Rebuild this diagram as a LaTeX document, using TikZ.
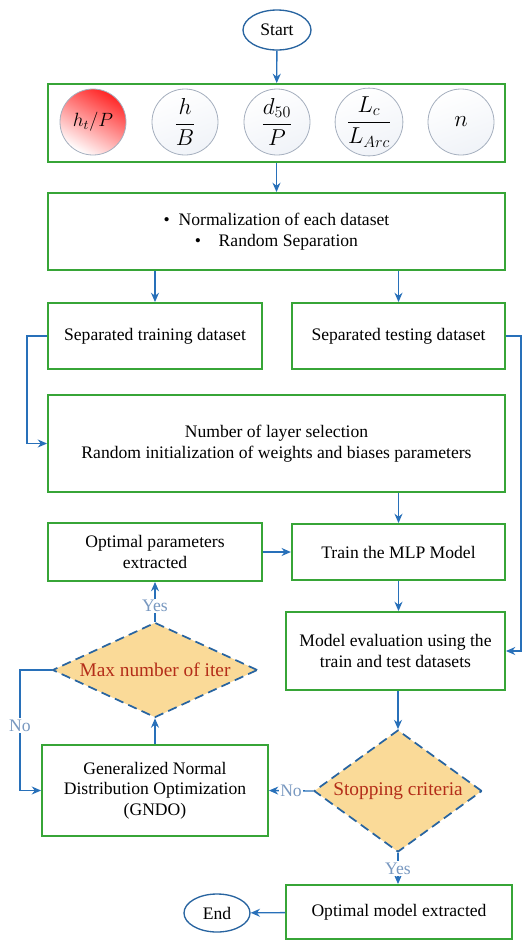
\documentclass[tikz,border=0pt]{standalone}
\usepackage{amsmath}
\usepackage{amssymb}
\usepackage{fontspec}
\setmainfont{Liberation Serif}
\usetikzlibrary{shapes.geometric,arrows.meta}

\definecolor{boxgreen}{RGB}{55,165,55}
\definecolor{flowblue}{RGB}{40,112,185}
\definecolor{dashblue}{RGB}{40,100,160}
\definecolor{decfill}{RGB}{250,218,152}
\definecolor{dectext}{RGB}{180,45,25}
\definecolor{labblue}{RGB}{120,152,192}
\definecolor{ringgray}{RGB}{165,175,190}
\definecolor{ringfill}{RGB}{240,243,248}

\tikzset{
  procbox/.style={draw=boxgreen, line width=1.4pt, rectangle, align=center, inner sep=2pt},
  decbox/.style={draw=dashblue, fill=decfill, line width=1.3pt, dashed, dash pattern=on 7pt off 4pt,
    diamond, inner sep=0pt, text=dectext, font=\fontsize{14.5}{17}\selectfont},
  termbox/.style={draw=dashblue, line width=1pt, ellipse, inner sep=0pt},
  parcirc/.style={circle, draw=ringgray, line width=0.6pt, minimum size=49.5pt, inner sep=0pt,
    top color=white, bottom color=ringfill, shading angle=20, font=\fontsize{16.5}{19}\selectfont},
  flow/.style={draw=flowblue, line width=1pt, ->, >={Stealth[length=7pt,width=6pt]}},
  answer/.style={text=labblue, fill=white, inner sep=1pt}
}

\begin{document}
\begin{tikzpicture}[x=0.75pt, y=-0.75pt, font=\fontsize{13.2}{15.5}\selectfont]
            % Frame
            \useasboundingbox (0,0) rectangle (523,940);
            
            % Start and the inputs
            \node[termbox, minimum width=51pt, minimum height=30pt] (start) at (277,30) {Start};
            \node[procbox, minimum width=342.75pt, minimum height=58.5pt] (inputs) at (276.5,123) {};
            \node[parcirc, top color=red!85!white, bottom color=white, shading angle=-30,
              font=\fontsize{14}{16}\selectfont] (in1) at (93,122) {$h_t/P$};
            \node[parcirc] (in2) at (185,122) {$\dfrac{h}{B}$};
            \node[parcirc] (in3) at (277,122) {$\dfrac{d_{50}}{P}$};
            \node[parcirc] (in4) at (369,122) {$\dfrac{L_c}{L_{Arc}}$};
            \node[parcirc] (in5) at (461,122) {$n$};
            
            % Data preparation
            \node[procbox, minimum width=342.75pt, minimum height=57.75pt] (norm) at (276.5,231.5)
              {\textbullet\ \ Normalization of each dataset\\ \textbullet\quad Random Separation};
            \node[procbox, minimum width=160.5pt, minimum height=49.5pt] (train) at (155,336) {Separated training dataset};
            \node[procbox, minimum width=160pt, minimum height=49.5pt] (test) at (398.5,336) {Separated testing dataset};
            \node[procbox, minimum width=342.75pt, minimum height=72.75pt] (layer) at (276.5,443.5)
              {Number of layer selection\\ Random initialization of weights and biases parameters};
            
            % Training loop
            \node[procbox, minimum width=160.5pt, minimum height=43.5pt] (optpar) at (155,552) {Optimal parameters\\ extracted};
            \node[procbox, minimum width=160pt, minimum height=42pt] (mlp) at (398.5,552) {Train the MLP Model};
            \node[procbox, minimum width=164.25pt, minimum height=58.5pt] (eval) at (395.5,651)
              {Model evaluation using the\\ train and test datasets};
            \node[decbox, minimum width=126pt, minimum height=91.5pt, aspect=1.38] (stop) at (398,791) {Stopping criteria};
            \node[procbox, minimum width=169.5pt, minimum height=68.25pt] (gndo) at (155,790.5)
              {Generalized Normal\\ Distribution Optimization\\ (GNDO)};
            \node[decbox, minimum width=153.75pt, minimum height=71.25pt, aspect=2.16] (maxit) at (155,670) {Max number of iter};
            
            % Output
            \node[procbox, minimum width=169.5pt, minimum height=40.5pt] (optmod) at (399,912) {Optimal model extracted};
            \node[termbox, minimum width=49.5pt, minimum height=28.5pt] (end) at (217,913) {End};
            
            % Corners of the side lines
            \coordinate (trainturn) at (27,336);
            \coordinate (testturn) at (521,336);
            \coordinate (noturn) at (20,670);
            
            % Connectors
            \draw[flow] (start) -- (inputs);
            \draw[flow] (inputs) -- (norm);
            \draw[flow] (norm.south -| train.north) -- (train.north);
            \draw[flow] (norm.south -| test.north) -- (test.north);
            \draw[flow] (train.west) -- (trainturn) |- (layer.west);
            \draw[flow] (test.east) -- (testturn) |- (eval.east);
            \draw[flow] (layer.south -| mlp.north) -- (mlp.north);
            \draw[flow] (optpar) -- (mlp);
            \draw[flow] (mlp.south) -- (eval.north -| mlp.south);
            \draw[flow] (eval.south -| stop.north) -- (stop.north);
            \draw[flow] (stop.west) -- node[answer] {No} (gndo.east);
            \draw[flow] (gndo.north) -- (maxit.south);
            \draw[flow] (maxit.north) -- node[answer, pos=0.4] {Yes} (optpar.south);
            \draw[flow] (maxit.west) -- (noturn) -- node[answer, pos=0.46] {No} (noturn |- gndo.west) -- (gndo.west);
            \draw[flow] (stop.south) -- node[answer] {Yes} (optmod.north -| stop.south);
            \draw[flow] (optmod) -- (end);
\end{tikzpicture}
\end{document}
